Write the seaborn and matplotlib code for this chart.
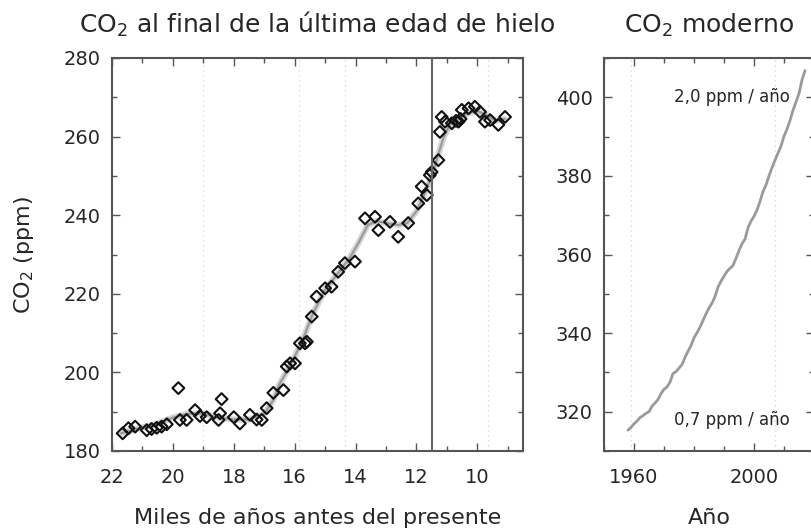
import numpy as np
import pandas as pd
import matplotlib
matplotlib.use("Agg")
import matplotlib.pyplot as plt
from matplotlib.ticker import MultipleLocator
import seaborn as sns

# ---------------- data ----------------
# Ice-core points (thousands of years before present, ppm)
ice_ka = [21.65, 21.46, 21.24, 20.86, 20.70, 20.53, 20.37, 20.20, 19.82, 19.77,
          19.55, 19.27, 19.11, 18.89, 18.50, 18.40, 18.45, 18.00, 17.80, 17.47,
          17.25, 17.08, 16.92, 16.70, 16.37, 16.26, 16.15, 15.99, 15.83, 15.66,
          15.60, 15.44, 15.28, 15.00, 14.79, 14.57, 14.35, 14.02, 13.69, 13.36,
          13.25, 12.87, 12.60, 12.27, 11.94, 11.83, 11.66, 11.56, 11.50, 11.28,
          11.23, 11.17, 11.06, 10.84, 10.70, 10.62, 10.55, 10.51, 10.29, 10.08,
          9.91, 9.75, 9.58, 9.31, 9.09]
ice_ppm = [184.5, 185.8, 186.2, 185.3, 185.6, 185.9, 186.2, 186.8, 196.0, 187.9,
           187.9, 190.4, 188.9, 188.6, 187.9, 193.2, 189.6, 188.6, 187.0, 189.2,
           188.0, 187.9, 190.9, 194.8, 195.5, 201.5, 202.3, 202.3, 207.4, 207.4,
           207.8, 214.2, 219.3, 221.4, 221.8, 225.6, 227.8, 228.2, 239.2, 239.6,
           236.2, 238.3, 234.5, 238.0, 243.0, 247.3, 245.1, 250.2, 251.0, 254.0,
           261.2, 265.0, 263.8, 263.4, 264.0, 263.8, 264.5, 266.8, 267.2, 267.6,
           266.3, 263.8, 264.2, 263.0, 265.0]

# Smoothed ice-core curve
fit_ka = [21.7, 21.0, 20.5, 20.0, 19.5, 19.0, 18.5, 18.0, 17.5, 17.0, 16.7, 16.5,
          16.2, 16.0, 15.7, 15.4, 15.0, 14.6, 14.2, 13.9, 13.6, 13.3, 13.0, 12.6,
          12.3, 12.0, 11.7, 11.5, 11.3, 11.1, 10.9, 10.6, 10.3, 10.0, 9.7, 9.4, 9.1]
fit_ppm = [184.5, 186.0, 187.0, 188.5, 189.5, 189.5, 188.5, 188.0, 188.0, 189.5,
           193.0, 197.0, 201.0, 204.0, 209.0, 215.0, 221.0, 225.0, 229.0, 233.0,
           237.5, 238.5, 238.0, 237.5, 238.0, 241.0, 246.0, 250.0, 255.0, 260.0,
           263.0, 264.5, 266.0, 266.5, 265.5, 264.0, 264.5]

# Modern record (year, ppm)
years = list(range(1958, 2018))
modern_ppm = [315.3, 316.0, 316.9, 317.6, 318.5, 319.0, 319.6, 320.0, 321.4, 322.2,
              323.1, 324.6, 325.7, 326.3, 327.5, 329.7, 330.2, 331.1, 332.0, 333.8,
              335.4, 336.8, 338.8, 340.1, 341.5, 343.2, 344.9, 346.4, 347.6, 349.3,
              351.7, 353.2, 354.5, 355.7, 356.5, 357.2, 359.0, 361.0, 362.7, 363.9,
              366.8, 368.5, 369.7, 371.3, 373.5, 376.0, 377.7, 380.0, 382.1, 384.0,
              385.8, 387.6, 390.1, 391.9, 394.1, 396.7, 398.8, 401.0, 404.4, 406.8]

left_title = "CO$_2$ al final de la última edad de hielo"
right_title = "CO$_2$ moderno"
left_xlabel = "Miles de años antes del presente"
right_xlabel = "Año"
ylabel = "CO$_2$ (ppm)"
rate_high = "2,0 ppm / año"
rate_low = "0,7 ppm / año"

# ---------------- style ----------------
sns.set_style("ticks")
plt.rcParams["font.family"] = ["DejaVu Sans"]
plt.rcParams["mathtext.fontset"] = "dejavusans"
TXT = "#262626"
SPINE = "#555555"

fig = plt.figure(figsize=(8.12, 5.32), dpi=100)
axL = fig.add_axes([112 / 812, 1 - 451 / 532, (523 - 112) / 812, (451 - 58) / 532])
axR = fig.add_axes([604 / 812, 1 - 451 / 532, (814 - 604) / 812, (451 - 58) / 532])

ice_df = pd.DataFrame({"ka": ice_ka, "ppm": ice_ppm})
fit_df = pd.DataFrame({"ka": fit_ka, "ppm": fit_ppm})
mod_df = pd.DataFrame({"year": years, "ppm": modern_ppm})

# faint dotted reference lines
for xv in [19.0, 15.85, 14.35, 9.65]:
    axL.axvline(xv, color="#d4d4d4", lw=0.9, ls=(0, (1, 3)), zorder=0)
for xv in [1959, 2007]:
    axR.axvline(xv, color="#d4d4d4", lw=0.9, ls=(0, (1, 3)), zorder=0)

# left panel
sns.lineplot(data=fit_df, x="ka", y="ppm", ax=axL, color="#d6d6d6", lw=4.5,
             sort=False, zorder=2)
sns.lineplot(data=fit_df, x="ka", y="ppm", ax=axL, color="#9a9a9a", lw=1.6,
             sort=False, zorder=3)
sns.scatterplot(data=ice_df, x="ka", y="ppm", ax=axL, marker="D", s=36,
                facecolor="none", edgecolor="#111111", linewidth=1.5, zorder=4)
axL.axvline(11.5, color="#666666", lw=1.5, zorder=5)

axL.set_xlim(22, 8.5)
axL.set_ylim(180, 280)
axL.xaxis.set_major_locator(MultipleLocator(2))
axL.xaxis.set_minor_locator(MultipleLocator(1))
axL.yaxis.set_major_locator(MultipleLocator(20))
axL.yaxis.set_minor_locator(MultipleLocator(10))

# right panel
sns.lineplot(data=mod_df, x="year", y="ppm", ax=axR, color="#9a9a9a", lw=2.0)
axR.set_xlim(1950, 2020)
axR.set_ylim(310, 410)
axR.set_xticks([1960, 2000])
axR.xaxis.set_minor_locator(MultipleLocator(10))
axR.yaxis.set_major_locator(MultipleLocator(20))
axR.yaxis.set_minor_locator(MultipleLocator(10))
axR.text(2012, 400, rate_high, ha="right", va="center", fontsize=12, color=TXT)
axR.text(2012, 318, rate_low, ha="right", va="center", fontsize=12, color=TXT)

for ax in (axL, axR):
    for sp in ax.spines.values():
        sp.set_visible(True)
        sp.set_color(SPINE)
        sp.set_linewidth(1.5)
    ax.tick_params(which="both", direction="in", top=True, right=True,
                   color=SPINE, width=1.0, labelcolor=TXT, labelsize=14)
    ax.tick_params(which="major", length=6)
    ax.tick_params(which="minor", length=3.5)
    ax.tick_params(axis="x", which="both", pad=12)
    ax.tick_params(axis="y", which="both", pad=8)
    ax.grid(False)

axL.set_title(left_title, fontsize=18, color=TXT, pad=18)
axR.set_title(right_title, fontsize=18, color=TXT, pad=18)
axL.set_xlabel(left_xlabel, fontsize=16, color=TXT, labelpad=15)
axR.set_xlabel(right_xlabel, fontsize=16, color=TXT, labelpad=15)
axL.set_ylabel(ylabel, fontsize=16, color=TXT, labelpad=20)
axR.set_ylabel("")

fig.savefig("out.png", dpi=100)
